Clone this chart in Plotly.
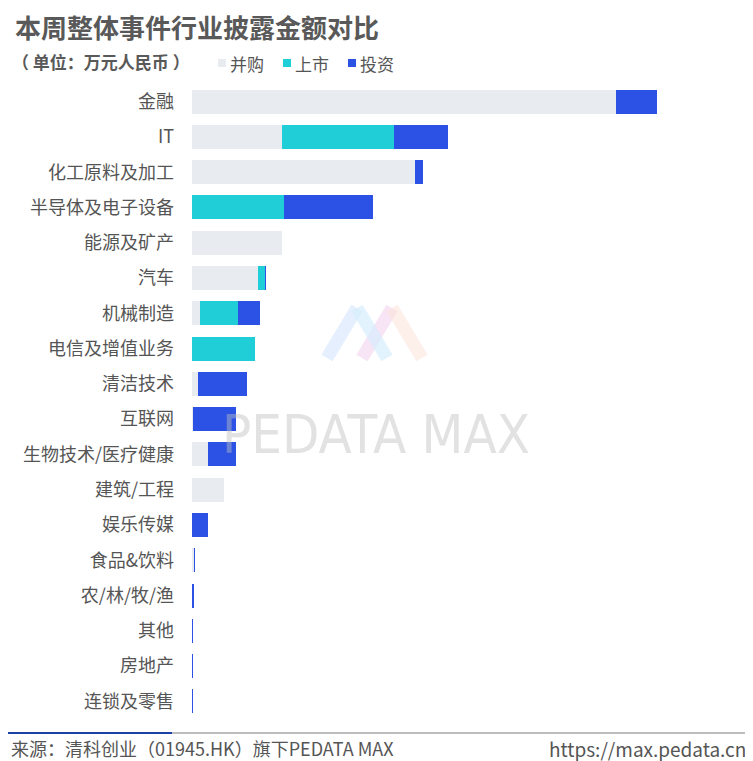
import plotly.graph_objects as go

# industry categories, top to bottom
industries = [
    "金融", "IT", "化工原料及加工", "半导体及电子设备", "能源及矿产", "汽车",
    "机械制造", "电信及增值业务", "清洁技术", "互联网", "生物技术/医疗健康",
    "建筑/工程", "娱乐传媒", "食品&饮料", "农/林/牧/渔", "其他", "房地产", "连锁及零售",
]
# disclosed amounts, 万元人民币
ma_amount = [424000, 90000, 223000, 0, 90000, 66000, 8000, 0, 6000, 1000, 16000,
             32000, 0, 2000, 0, 0, 0, 0]
ipo_amount = [0, 112000, 0, 92000, 0, 7000, 38000, 63000, 0, 0, 0,
              0, 0, 0, 0, 0, 0, 0]
vc_amount = [41000, 54000, 8000, 89000, 0, 1000, 22000, 0, 49000, 43000, 28000,
             0, 16000, 1000, 2000, 1000, 1000, 1000]

series = [("并购", ma_amount, "#E8EBF0"),
          ("上市", ipo_amount, "#20CED8"),
          ("投资", vc_amount, "#2B52E5")]

# page body adds an 8px margin, so the figure is 8px smaller
W, H = 745, 753
L, R, T, B = 184, 10, 76, 42
PW, PH = W - L - R, H - T - B


def px(x):
    # x in window pixels -> paper
    return (x - 8 - L) / PW


def py(y):
    return (H - B - (y - 8)) / PH


fig = go.Figure()
for name, vals, color in series:
    fig.add_trace(go.Bar(
        y=industries, x=vals, name=name, orientation="h",
        marker=dict(color=color, line=dict(width=0)),
        showlegend=False,
    ))

fig.update_layout(
    width=W, height=H,
    barmode="stack", bargap=0.32,
    margin=dict(l=L, r=R, t=T, b=B),
    paper_bgcolor="white", plot_bgcolor="white",
    font=dict(family="Noto Sans CJK SC", color="#555555"),
    xaxis=dict(visible=False, range=[0, PW * 1000]),
    yaxis=dict(
        autorange="reversed", showgrid=False, showline=False, zeroline=False,
        ticks="", ticklabelstandoff=17,
        tickfont=dict(size=18, color="#555555", family="Noto Sans CJK SC"),
    ),
)

ann = []
shapes = []
# title and unit
ann.append(dict(text="<b>本周整体事件行业披露金额对比</b>", x=px(13), y=py(26),
                xref="paper", yref="paper", xanchor="left", yanchor="middle",
                showarrow=False, font=dict(size=26, color="#595959")))
ann.append(dict(text="<b>（ 单位：万元人民币 ）</b>", x=px(10), y=py(62),
                xref="paper", yref="paper", xanchor="left", yanchor="middle",
                showarrow=False, font=dict(size=17, color="#595959")))

# legend
lx = 218
for name, vals, color in series:
    shapes.append(dict(type="rect", xref="paper", yref="paper",
                       x0=px(lx), x1=px(lx + 8), y0=py(59), y1=py(67),
                       fillcolor=color, line=dict(width=0)))
    ann.append(dict(text=name, x=px(lx + 10), y=py(63), xref="paper", yref="paper",
                    xanchor="left", yanchor="middle", showarrow=False,
                    font=dict(size=17, color="#555555")))
    lx += 65

# watermark logo
def leg(x0, y0, x1, y1, color):
    shapes.append(dict(type="line", xref="paper", yref="paper",
                       x0=px(x0), y0=py(y0), x1=px(x1), y1=py(y1),
                       line=dict(color=color, width=13), layer="above"))

leg(362, 358, 392, 308, "rgba(240,208,238,0.55)")
leg(392, 308, 422, 358, "rgba(252,225,215,0.55)")
leg(327, 358, 357, 308, "rgba(208,225,252,0.55)")
leg(357, 308, 387, 358, "rgba(212,236,252,0.65)")

ann.append(dict(text="PEDATA MAX", x=px(376), y=py(434), xref="paper", yref="paper",
                xanchor="center", yanchor="middle", showarrow=False,
                font=dict(size=54, color="rgba(190,190,190,0.45)",
                          family="Liberation Sans Narrow, DejaVu Sans Condensed, Roboto")))

# footer
shapes.append(dict(type="line", xref="paper", yref="paper", x0=px(2), x1=px(752),
                   y0=py(733), y1=py(733), line=dict(color="#BDBDBD", width=2)))
shapes.append(dict(type="line", xref="paper", yref="paper", x0=px(2), x1=px(172),
                   y0=py(733), y1=py(733), line=dict(color="#1C3FA8", width=2)))
ann.append(dict(text="来源：清科创业（01945.HK）旗下PEDATA MAX", x=px(9), y=py(748),
                xref="paper", yref="paper", xanchor="left", yanchor="middle",
                showarrow=False, font=dict(size=18, color="#555555")))
ann.append(dict(text="https://max.pedata.cn", x=px(748), y=py(748),
                xref="paper", yref="paper", xanchor="right", yanchor="middle",
                showarrow=False, font=dict(size=19, color="#555555")))

fig.update_layout(annotations=ann, shapes=shapes)
fig.write_html("out.html")
